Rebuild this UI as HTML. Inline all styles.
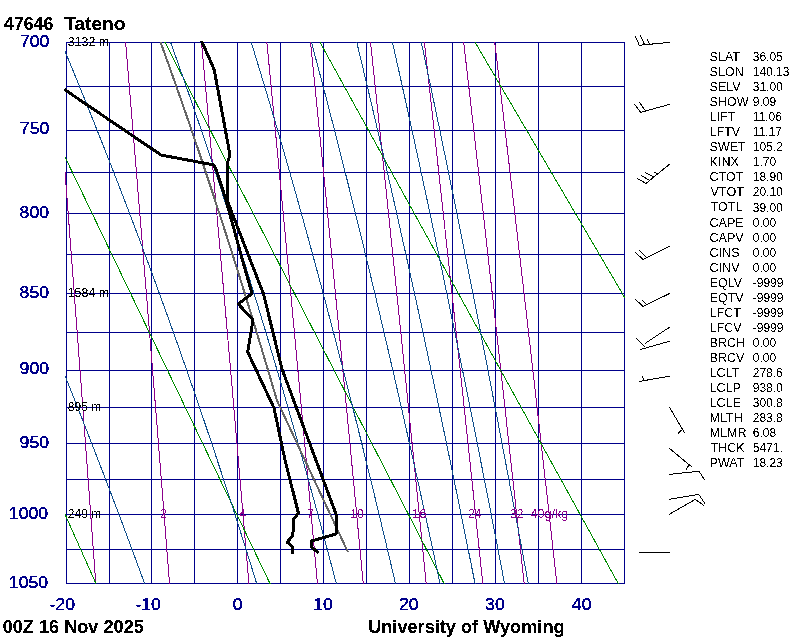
<!DOCTYPE html>
<html><head><meta charset="utf-8"><style>
html,body{margin:0;padding:0;background:#fff;}
#w{position:relative;width:800px;height:640px;overflow:hidden;background:#fff;}
</style></head><body><div id="w">
<svg width="800" height="640" viewBox="0 0 800 640" shape-rendering="crispEdges" style="position:absolute;left:0;top:0"><defs><clipPath id="c"><rect x="65" y="42" width="560" height="542"/></clipPath></defs><path d="M66.5 42V584M109.5 42V584M151.5 42V584M194.5 42V584M237.5 42V584M280.5 42V584M323.5 42V584M366.5 42V584M409.5 42V584M452.5 42V584M495.5 42V584M538.5 42V584M581.5 42V584M624.5 42V584M66 42.5H625M66 86.5H625M66 130.5H625M66 172.5H625M66 213.5H625M66 254.5H625M66 293.5H625M66 332.5H625M66 370.5H625M66 407.5H625M66 443.5H625M66 479.5H625M66 514.5H625M66 549.5H625M66 583.5H625" stroke="#00008b" stroke-width="1" fill="none"/><g clip-path="url(#c)" fill="none" stroke-width="1"><polyline points="53.54,24.41 54.25,33.46 54.95,42.47 55.65,51.44 56.35,60.36 57.04,69.23 57.73,78.06 58.41,86.85 59.09,95.59 59.77,104.29 60.44,112.95 61.11,121.57 61.77,130.15 62.43,138.68 63.09,147.17 63.74,155.63 64.39,164.04 65.03,172.42 65.67,180.76 66.31,189.06 66.94,197.32 67.57,205.54 68.20,213.73 68.82,221.88 69.44,230.00 70.05,238.08 70.67,246.12 71.28,254.13 71.88,262.11 72.48,270.05 73.08,277.95 73.68,285.82 74.27,293.66 74.86,301.47 75.45,309.24 76.03,316.99 76.61,324.69 77.19,332.37 77.76,340.02 78.34,347.64 78.90,355.22 79.47,362.78 80.03,370.30 80.59,377.79 81.15,385.26 81.71,392.70 82.26,400.10 82.81,407.48 83.36,414.83 83.90,422.15 84.44,429.45 84.98,436.71 85.52,443.95 86.05,451.16 86.58,458.34 87.11,465.50 87.64,472.63 88.16,479.74 88.68,486.82 89.20,493.87 89.72,500.90 90.23,507.90 90.75,514.88 91.26,521.83 91.76,528.76 92.27,535.66 92.77,542.54 93.27,549.39 93.77,556.22 94.27,563.03 94.77,569.82 95.26,576.58 95.75,583.31 96.24,590.03 96.72,596.72" stroke="#8b008b"/><polyline points="124.08,24.41 124.84,33.46 125.60,42.47 126.35,51.44 127.10,60.36 127.85,69.23 128.59,78.06 129.32,86.85 130.05,95.59 130.78,104.29 131.50,112.95 132.22,121.57 132.93,130.15 133.64,138.68 134.35,147.17 135.05,155.63 135.75,164.04 136.44,172.42 137.13,180.76 137.81,189.06 138.50,197.32 139.17,205.54 139.85,213.73 140.52,221.88 141.18,230.00 141.85,238.08 142.50,246.12 143.16,254.13 143.81,262.11 144.46,270.05 145.10,277.95 145.75,285.82 146.38,293.66 147.02,301.47 147.65,309.24 148.28,316.99 148.90,324.69 149.52,332.37 150.14,340.02 150.76,347.64 151.37,355.22 151.98,362.78 152.59,370.30 153.19,377.79 153.79,385.26 154.39,392.70 154.98,400.10 155.57,407.48 156.16,414.83 156.75,422.15 157.33,429.45 157.91,436.71 158.49,443.95 159.06,451.16 159.64,458.34 160.21,465.50 160.77,472.63 161.34,479.74 161.90,486.82 162.46,493.87 163.01,500.90 163.57,507.90 164.12,514.88 164.67,521.83 165.22,528.76 165.76,535.66 166.30,542.54 166.84,549.39 167.38,556.22 167.92,563.03 168.45,569.82 168.98,576.58 169.51,583.31 170.03,590.03 170.56,596.72" stroke="#8b008b"/><polyline points="199.85,24.41 200.68,33.46 201.50,42.47 202.31,51.44 203.12,60.36 203.92,69.23 204.72,78.06 205.51,86.85 206.30,95.59 207.09,104.29 207.86,112.95 208.64,121.57 209.41,130.15 210.17,138.68 210.93,147.17 211.69,155.63 212.44,164.04 213.19,172.42 213.93,180.76 214.67,189.06 215.41,197.32 216.14,205.54 216.86,213.73 217.59,221.88 218.31,230.00 219.02,238.08 219.73,246.12 220.44,254.13 221.14,262.11 221.84,270.05 222.54,277.95 223.23,285.82 223.92,293.66 224.60,301.47 225.28,309.24 225.96,316.99 226.64,324.69 227.31,332.37 227.97,340.02 228.64,347.64 229.30,355.22 229.96,362.78 230.61,370.30 231.26,377.79 231.91,385.26 232.55,392.70 233.20,400.10 233.83,407.48 234.47,414.83 235.10,422.15 235.73,429.45 236.36,436.71 236.98,443.95 237.60,451.16 238.22,458.34 238.84,465.50 239.45,472.63 240.06,479.74 240.66,486.82 241.27,493.87 241.87,500.90 242.47,507.90 243.06,514.88 243.66,521.83 244.25,528.76 244.84,535.66 245.42,542.54 246.00,549.39 246.58,556.22 247.16,563.03 247.74,569.82 248.31,576.58 248.88,583.31 249.45,590.03 250.01,596.72" stroke="#8b008b"/><polyline points="265.14,24.41 266.02,33.46 266.89,42.47 267.76,51.44 268.62,60.36 269.47,69.23 270.32,78.06 271.17,86.85 272.01,95.59 272.84,104.29 273.67,112.95 274.50,121.57 275.32,130.15 276.13,138.68 276.94,147.17 277.75,155.63 278.55,164.04 279.34,172.42 280.13,180.76 280.92,189.06 281.70,197.32 282.48,205.54 283.26,213.73 284.03,221.88 284.79,230.00 285.55,238.08 286.31,246.12 287.06,254.13 287.81,262.11 288.56,270.05 289.30,277.95 290.04,285.82 290.77,293.66 291.50,301.47 292.23,309.24 292.95,316.99 293.67,324.69 294.38,332.37 295.09,340.02 295.80,347.64 296.51,355.22 297.21,362.78 297.90,370.30 298.60,377.79 299.29,385.26 299.97,392.70 300.66,400.10 301.34,407.48 302.02,414.83 302.69,422.15 303.36,429.45 304.03,436.71 304.69,443.95 305.36,451.16 306.01,458.34 306.67,465.50 307.32,472.63 307.97,479.74 308.62,486.82 309.26,493.87 309.90,500.90 310.54,507.90 311.18,514.88 311.81,521.83 312.44,528.76 313.06,535.66 313.69,542.54 314.31,549.39 314.93,556.22 315.54,563.03 316.16,569.82 316.77,576.58 317.38,583.31 317.98,590.03 318.59,596.72" stroke="#8b008b"/><polyline points="308.75,24.41 309.67,33.46 310.57,42.47 311.47,51.44 312.37,60.36 313.26,69.23 314.15,78.06 315.03,86.85 315.90,95.59 316.77,104.29 317.64,112.95 318.49,121.57 319.35,130.15 320.20,138.68 321.04,147.17 321.88,155.63 322.71,164.04 323.54,172.42 324.37,180.76 325.19,189.06 326.00,197.32 326.82,205.54 327.62,213.73 328.42,221.88 329.22,230.00 330.02,238.08 330.80,246.12 331.59,254.13 332.37,262.11 333.15,270.05 333.92,277.95 334.69,285.82 335.45,293.66 336.21,301.47 336.97,309.24 337.72,316.99 338.47,324.69 339.22,332.37 339.96,340.02 340.69,347.64 341.43,355.22 342.16,362.78 342.89,370.30 343.61,377.79 344.33,385.26 345.04,392.70 345.76,400.10 346.47,407.48 347.17,414.83 347.87,422.15 348.57,429.45 349.27,436.71 349.96,443.95 350.65,451.16 351.34,458.34 352.02,465.50 352.70,472.63 353.38,479.74 354.05,486.82 354.73,493.87 355.39,500.90 356.06,507.90 356.72,514.88 357.38,521.83 358.04,528.76 358.69,535.66 359.34,542.54 359.99,549.39 360.63,556.22 361.28,563.03 361.92,569.82 362.55,576.58 363.19,583.31 363.82,590.03 364.45,596.72" stroke="#8b008b"/><polyline points="368.61,24.41 369.57,33.46 370.53,42.47 371.49,51.44 372.43,60.36 373.37,69.23 374.31,78.06 375.24,86.85 376.16,95.59 377.08,104.29 377.99,112.95 378.90,121.57 379.80,130.15 380.70,138.68 381.59,147.17 382.48,155.63 383.36,164.04 384.24,172.42 385.11,180.76 385.97,189.06 386.84,197.32 387.69,205.54 388.54,213.73 389.39,221.88 390.24,230.00 391.07,238.08 391.91,246.12 392.74,254.13 393.56,262.11 394.38,270.05 395.20,277.95 396.01,285.82 396.82,293.66 397.62,301.47 398.42,309.24 399.22,316.99 400.01,324.69 400.80,332.37 401.58,340.02 402.36,347.64 403.14,355.22 403.91,362.78 404.68,370.30 405.44,377.79 406.20,385.26 406.96,392.70 407.71,400.10 408.46,407.48 409.21,414.83 409.95,422.15 410.69,429.45 411.43,436.71 412.16,443.95 412.89,451.16 413.61,458.34 414.34,465.50 415.06,472.63 415.77,479.74 416.48,486.82 417.19,493.87 417.90,500.90 418.60,507.90 419.30,514.88 420.00,521.83 420.70,528.76 421.39,535.66 422.07,542.54 422.76,549.39 423.44,556.22 424.12,563.03 424.80,569.82 425.47,576.58 426.14,583.31 426.81,590.03 427.48,596.72" stroke="#8b008b"/><polyline points="422.37,24.41 423.39,33.46 424.39,42.47 425.39,51.44 426.38,60.36 427.37,69.23 428.35,78.06 429.33,86.85 430.30,95.59 431.26,104.29 432.22,112.95 433.17,121.57 434.12,130.15 435.06,138.68 435.99,147.17 436.92,155.63 437.85,164.04 438.77,172.42 439.68,180.76 440.59,189.06 441.50,197.32 442.40,205.54 443.29,213.73 444.18,221.88 445.06,230.00 445.94,238.08 446.82,246.12 447.69,254.13 448.56,262.11 449.42,270.05 450.27,277.95 451.13,285.82 451.97,293.66 452.82,301.47 453.66,309.24 454.49,316.99 455.32,324.69 456.15,332.37 456.97,340.02 457.79,347.64 458.61,355.22 459.42,362.78 460.22,370.30 461.02,377.79 461.82,385.26 462.62,392.70 463.41,400.10 464.20,407.48 464.98,414.83 465.76,422.15 466.54,429.45 467.31,436.71 468.08,443.95 468.84,451.16 469.61,458.34 470.36,465.50 471.12,472.63 471.87,479.74 472.62,486.82 473.37,493.87 474.11,500.90 474.85,507.90 475.58,514.88 476.31,521.83 477.04,528.76 477.77,535.66 478.49,542.54 479.21,549.39 479.93,556.22 480.64,563.03 481.35,569.82 482.06,576.58 482.76,583.31 483.46,590.03 484.16,596.72" stroke="#8b008b"/><polyline points="461.62,24.41 462.67,33.46 463.71,42.47 464.75,51.44 465.77,60.36 466.80,69.23 467.81,78.06 468.82,86.85 469.82,95.59 470.82,104.29 471.81,112.95 472.80,121.57 473.78,130.15 474.75,138.68 475.72,147.17 476.68,155.63 477.64,164.04 478.59,172.42 479.54,180.76 480.48,189.06 481.41,197.32 482.35,205.54 483.27,213.73 484.19,221.88 485.11,230.00 486.02,238.08 486.92,246.12 487.83,254.13 488.72,262.11 489.61,270.05 490.50,277.95 491.38,285.82 492.26,293.66 493.13,301.47 494.00,309.24 494.87,316.99 495.73,324.69 496.58,332.37 497.44,340.02 498.28,347.64 499.13,355.22 499.96,362.78 500.80,370.30 501.63,377.79 502.46,385.26 503.28,392.70 504.10,400.10 504.92,407.48 505.73,414.83 506.53,422.15 507.34,429.45 508.14,436.71 508.93,443.95 509.73,451.16 510.52,458.34 511.30,465.50 512.08,472.63 512.86,479.74 513.64,486.82 514.41,493.87 515.18,500.90 515.94,507.90 516.70,514.88 517.46,521.83 518.22,528.76 518.97,535.66 519.72,542.54 520.46,549.39 521.21,556.22 521.94,563.03 522.68,569.82 523.41,576.58 524.14,583.31 524.87,590.03 525.59,596.72" stroke="#8b008b"/><polyline points="492.62,24.41 493.70,33.46 494.77,42.47 495.83,51.44 496.89,60.36 497.94,69.23 498.98,78.06 500.01,86.85 501.05,95.59 502.07,104.29 503.09,112.95 504.10,121.57 505.11,130.15 506.11,138.68 507.10,147.17 508.09,155.63 509.07,164.04 510.05,172.42 511.02,180.76 511.99,189.06 512.95,197.32 513.91,205.54 514.86,213.73 515.80,221.88 516.74,230.00 517.68,238.08 518.61,246.12 519.54,254.13 520.46,262.11 521.37,270.05 522.28,277.95 523.19,285.82 524.09,293.66 524.99,301.47 525.88,309.24 526.77,316.99 527.66,324.69 528.53,332.37 529.41,340.02 530.28,347.64 531.15,355.22 532.01,362.78 532.87,370.30 533.72,377.79 534.57,385.26 535.42,392.70 536.26,400.10 537.09,407.48 537.93,414.83 538.76,422.15 539.58,429.45 540.41,436.71 541.22,443.95 542.04,451.16 542.85,458.34 543.66,465.50 544.46,472.63 545.26,479.74 546.06,486.82 546.85,493.87 547.64,500.90 548.43,507.90 549.21,514.88 549.99,521.83 550.76,528.76 551.54,535.66 552.31,542.54 553.07,549.39 553.83,556.22 554.59,563.03 555.35,569.82 556.10,576.58 556.85,583.31 557.60,590.03 558.34,596.72" stroke="#8b008b"/><polyline points="-229.62,-147.29 125.25,649.46" stroke="#008b00"/><polyline points="-81.23,-147.29 301.68,649.46" stroke="#008b00"/><polyline points="67.16,-147.29 478.11,649.46" stroke="#008b00"/><polyline points="215.55,-147.29 654.53,649.46" stroke="#008b00"/><polyline points="363.95,-147.29 830.96,649.46" stroke="#008b00"/><polyline points="149.39,596.72 146.96,590.03 144.51,583.31 142.04,576.58 139.56,569.82 137.06,563.03 134.54,556.22 132.01,549.39 129.46,542.54 126.90,535.66 124.32,528.76 121.72,521.83 119.10,514.88 116.46,507.90 113.81,500.90 111.14,493.87 108.45,486.82 105.74,479.74 103.02,472.63 100.27,465.50 97.51,458.34 94.73,451.16 91.93,443.95 89.11,436.71 86.27,429.45 83.42,422.15 80.54,414.83 77.64,407.48 74.73,400.10 71.79,392.70 68.83,385.26 65.86,377.79 62.86,370.30 59.84,362.78 56.80,355.22 53.74,347.64 50.66,340.02 47.56,332.37 44.44,324.69 41.30,316.99 38.13,309.24 34.94,301.47 31.74,293.66 28.51,285.82 25.25,277.95 21.98,270.05 18.68,262.11 15.36,254.13 12.02,246.12 8.65,238.08 5.26,230.00 1.85,221.88 -1.59,213.73 -5.05,205.54 -8.53,197.32 -12.03,189.06 -15.56,180.76 -19.12,172.42 -22.70,164.04 -26.30,155.63 -29.93,147.17 -33.58,138.68 -37.26,130.15 -40.96,121.57 -44.69,112.95 -48.44,104.29 -52.22,95.59 -56.03,86.85 -59.86,78.06 -63.71,69.23 -67.60,60.36 -71.51,51.44 -75.44,42.47 -79.40,33.46 -83.39,24.41 -87.41,15.30 -91.46,6.15 -95.53,-3.05 -99.63,-12.30 -103.76,-21.60 -107.91,-30.95 -112.10,-40.35 -116.31,-49.80 -120.55,-59.30 -124.82,-68.86 -129.13,-78.47 -133.46,-88.13 -137.82,-97.85 -142.21,-107.62 -146.63,-117.45 -151.08,-127.34 -155.56,-137.29 -160.08,-147.29" stroke="#104e8b"/><polyline points="260.72,596.72 258.67,590.03 256.60,583.31 254.52,576.58 252.42,569.82 250.31,563.03 248.18,556.22 246.04,549.39 243.88,542.54 241.70,535.66 239.51,528.76 237.30,521.83 235.08,514.88 232.84,507.90 230.58,500.90 228.30,493.87 226.01,486.82 223.70,479.74 221.37,472.63 219.02,465.50 216.66,458.34 214.28,451.16 211.87,443.95 209.45,436.71 207.01,429.45 204.55,422.15 202.07,414.83 199.57,407.48 197.04,400.10 194.50,392.70 191.94,385.26 189.35,377.79 186.75,370.30 184.12,362.78 181.47,355.22 178.80,347.64 176.11,340.02 173.39,332.37 170.65,324.69 167.88,316.99 165.10,309.24 162.28,301.47 159.45,293.66 156.59,285.82 153.70,277.95 150.79,270.05 147.85,262.11 144.89,254.13 141.90,246.12 138.88,238.08 135.84,230.00 132.77,221.88 129.67,213.73 126.55,205.54 123.39,197.32 120.21,189.06 117.00,180.76 113.76,172.42 110.49,164.04 107.19,155.63 103.85,147.17 100.49,138.68 97.10,130.15 93.68,121.57 90.22,112.95 86.73,104.29 83.21,95.59 79.65,86.85 76.07,78.06 72.45,69.23 68.79,60.36 65.10,51.44 61.38,42.47 57.62,33.46 53.82,24.41 49.99,15.30 46.13,6.15 42.22,-3.05 38.28,-12.30 34.31,-21.60 30.29,-30.95 26.24,-40.35 22.14,-49.80 18.01,-59.30 13.84,-68.86 9.64,-78.47 5.39,-88.13 1.10,-97.85 -3.23,-107.62 -7.60,-117.45 -12.02,-127.34 -16.47,-137.29 -20.96,-147.29" stroke="#104e8b"/><polyline points="339.75,596.72 338.00,590.03 336.24,583.31 334.47,576.58 332.69,569.82 330.89,563.03 329.08,556.22 327.26,549.39 325.43,542.54 323.58,535.66 321.73,528.76 319.85,521.83 317.97,514.88 316.07,507.90 314.16,500.90 312.23,493.87 310.29,486.82 308.34,479.74 306.37,472.63 304.38,465.50 302.38,458.34 300.37,451.16 298.34,443.95 296.29,436.71 294.23,429.45 292.15,422.15 290.06,414.83 287.95,407.48 285.82,400.10 283.68,392.70 281.51,385.26 279.33,377.79 277.14,370.30 274.92,362.78 272.69,355.22 270.43,347.64 268.16,340.02 265.87,332.37 263.56,324.69 261.23,316.99 258.88,309.24 256.50,301.47 254.11,293.66 251.70,285.82 249.26,277.95 246.80,270.05 244.32,262.11 241.82,254.13 239.30,246.12 236.75,238.08 234.17,230.00 231.58,221.88 228.95,213.73 226.31,205.54 223.63,197.32 220.94,189.06 218.21,180.76 215.46,172.42 212.68,164.04 209.87,155.63 207.04,147.17 204.18,138.68 201.28,130.15 198.36,121.57 195.41,112.95 192.42,104.29 189.41,95.59 186.36,86.85 183.28,78.06 180.17,69.23 177.03,60.36 173.85,51.44 170.63,42.47 167.38,33.46 164.10,24.41 160.78,15.30 157.42,6.15 154.02,-3.05 150.58,-12.30 147.11,-21.60 143.59,-30.95 140.04,-40.35 136.44,-49.80 132.80,-59.30 129.12,-68.86 125.40,-78.47 121.63,-88.13 117.81,-97.85 113.95,-107.62 110.05,-117.45 106.09,-127.34 102.09,-137.29 98.04,-147.29" stroke="#104e8b"/><polyline points="398.54,596.72 396.98,590.03 395.42,583.31 393.84,576.58 392.26,569.82 390.66,563.03 389.06,556.22 387.44,549.39 385.81,542.54 384.18,535.66 382.53,528.76 380.87,521.83 379.20,514.88 377.52,507.90 375.83,500.90 374.13,493.87 372.42,486.82 370.69,479.74 368.95,472.63 367.20,465.50 365.44,458.34 363.67,451.16 361.88,443.95 360.08,436.71 358.27,429.45 356.45,422.15 354.61,414.83 352.76,407.48 350.89,400.10 349.01,392.70 347.12,385.26 345.21,377.79 343.29,370.30 341.35,362.78 339.40,355.22 337.44,347.64 335.45,340.02 333.46,332.37 331.44,324.69 329.41,316.99 327.37,309.24 325.30,301.47 323.22,293.66 321.13,285.82 319.01,277.95 316.88,270.05 314.73,262.11 312.56,254.13 310.37,246.12 308.17,238.08 305.94,230.00 303.69,221.88 301.43,213.73 299.14,205.54 296.84,197.32 294.51,189.06 292.16,180.76 289.79,172.42 287.39,164.04 284.98,155.63 282.54,147.17 280.07,138.68 277.58,130.15 275.07,121.57 272.54,112.95 269.97,104.29 267.39,95.59 264.77,86.85 262.13,78.06 259.46,69.23 256.76,60.36 254.04,51.44 251.28,42.47 248.50,33.46 245.68,24.41 242.84,15.30 239.96,6.15 237.05,-3.05 234.11,-12.30 231.13,-21.60 228.12,-30.95 225.08,-40.35 222.00,-49.80 218.88,-59.30 215.72,-68.86 212.53,-78.47 209.30,-88.13 206.02,-97.85 202.71,-107.62 199.36,-117.45 195.96,-127.34 192.52,-137.29 189.03,-147.29" stroke="#104e8b"/><polyline points="442.87,596.72 441.45,590.03 440.02,583.31 438.58,576.58 437.14,569.82 435.68,563.03 434.22,556.22 432.75,549.39 431.27,542.54 429.78,535.66 428.28,528.76 426.78,521.83 425.26,514.88 423.73,507.90 422.20,500.90 420.66,493.87 419.10,486.82 417.54,479.74 415.97,472.63 414.38,465.50 412.79,458.34 411.19,451.16 409.57,443.95 407.95,436.71 406.31,429.45 404.67,422.15 403.01,414.83 401.34,407.48 399.66,400.10 397.97,392.70 396.27,385.26 394.56,377.79 392.83,370.30 391.09,362.78 389.34,355.22 387.58,347.64 385.81,340.02 384.02,332.37 382.22,324.69 380.40,316.99 378.57,309.24 376.73,301.47 374.88,293.66 373.01,285.82 371.12,277.95 369.23,270.05 367.31,262.11 365.39,254.13 363.44,246.12 361.48,238.08 359.51,230.00 357.52,221.88 355.51,213.73 353.49,205.54 351.45,197.32 349.39,189.06 347.32,180.76 345.23,172.42 343.12,164.04 340.99,155.63 338.84,147.17 336.67,138.68 334.49,130.15 332.28,121.57 330.06,112.95 327.81,104.29 325.55,95.59 323.26,86.85 320.95,78.06 318.62,69.23 316.26,60.36 313.89,51.44 311.49,42.47 309.06,33.46 306.61,24.41 304.14,15.30 301.64,6.15 299.12,-3.05 296.57,-12.30 293.99,-21.60 291.38,-30.95 288.75,-40.35 286.09,-49.80 283.40,-59.30 280.68,-68.86 277.93,-78.47 275.14,-88.13 272.33,-97.85 269.48,-107.62 266.60,-117.45 263.68,-127.34 260.73,-137.29 257.75,-147.29" stroke="#104e8b"/><polyline points="477.65,596.72 476.32,590.03 474.98,583.31 473.64,576.58 472.28,569.82 470.93,563.03 469.56,556.22 468.18,549.39 466.80,542.54 465.41,535.66 464.01,528.76 462.61,521.83 461.19,514.88 459.77,507.90 458.34,500.90 456.91,493.87 455.46,486.82 454.00,479.74 452.54,472.63 451.07,465.50 449.59,458.34 448.10,451.16 446.60,443.95 445.09,436.71 443.57,429.45 442.05,422.15 440.51,414.83 438.97,407.48 437.41,400.10 435.85,392.70 434.27,385.26 432.68,377.79 431.09,370.30 429.48,362.78 427.87,355.22 426.24,347.64 424.60,340.02 422.95,332.37 421.29,324.69 419.62,316.99 417.94,309.24 416.24,301.47 414.53,293.66 412.82,285.82 411.08,277.95 409.34,270.05 407.59,262.11 405.82,254.13 404.03,246.12 402.24,238.08 400.43,230.00 398.61,221.88 396.77,213.73 394.93,205.54 393.06,197.32 391.18,189.06 389.29,180.76 387.38,172.42 385.46,164.04 383.52,155.63 381.57,147.17 379.60,138.68 377.61,130.15 375.61,121.57 373.59,112.95 371.55,104.29 369.50,95.59 367.43,86.85 365.34,78.06 363.23,69.23 361.10,60.36 358.96,51.44 356.79,42.47 354.61,33.46 352.40,24.41 350.18,15.30 347.93,6.15 345.66,-3.05 343.37,-12.30 341.06,-21.60 338.73,-30.95 336.37,-40.35 333.99,-49.80 331.58,-59.30 329.15,-68.86 326.70,-78.47 324.22,-88.13 321.71,-97.85 319.18,-107.62 316.62,-117.45 314.03,-127.34 311.41,-137.29 308.77,-147.29" stroke="#104e8b"/><polyline points="507.06,596.72 505.78,590.03 504.50,583.31 503.21,576.58 501.91,569.82 500.61,563.03 499.30,556.22 497.98,549.39 496.66,542.54 495.33,535.66 493.99,528.76 492.65,521.83 491.29,514.88 489.93,507.90 488.56,500.90 487.19,493.87 485.81,486.82 484.42,479.74 483.02,472.63 481.61,465.50 480.20,458.34 478.78,451.16 477.35,443.95 475.91,436.71 474.46,429.45 473.00,422.15 471.54,414.83 470.07,407.48 468.59,400.10 467.09,392.70 465.60,385.26 464.09,377.79 462.57,370.30 461.04,362.78 459.50,355.22 457.96,347.64 456.40,340.02 454.83,332.37 453.26,324.69 451.67,316.99 450.07,309.24 448.46,301.47 446.85,293.66 445.22,285.82 443.58,277.95 441.93,270.05 440.26,262.11 438.59,254.13 436.90,246.12 435.21,238.08 433.50,230.00 431.78,221.88 430.04,213.73 428.30,205.54 426.54,197.32 424.77,189.06 422.98,180.76 421.19,172.42 419.38,164.04 417.55,155.63 415.71,147.17 413.86,138.68 411.99,130.15 410.11,121.57 408.21,112.95 406.30,104.29 404.37,95.59 402.43,86.85 400.47,78.06 398.50,69.23 396.51,60.36 394.50,51.44 392.47,42.47 390.43,33.46 388.37,24.41 386.30,15.30 384.20,6.15 382.08,-3.05 379.95,-12.30 377.80,-21.60 375.63,-30.95 373.43,-40.35 371.22,-49.80 368.99,-59.30 366.73,-68.86 364.45,-78.47 362.15,-88.13 359.83,-97.85 357.49,-107.62 355.12,-117.45 352.73,-127.34 350.31,-137.29 347.87,-147.29" stroke="#104e8b"/><polyline points="530.67,596.72 529.44,590.03 528.21,583.31 526.97,576.58 525.72,569.82 524.46,563.03 523.20,556.22 521.94,549.39 520.66,542.54 519.38,535.66 518.09,528.76 516.80,521.83 515.50,514.88 514.19,507.90 512.88,500.90 511.56,493.87 510.23,486.82 508.90,479.74 507.55,472.63 506.20,465.50 504.85,458.34 503.48,451.16 502.11,443.95 500.73,436.71 499.35,429.45 497.95,422.15 496.55,414.83 495.14,407.48 493.72,400.10 492.29,392.70 490.85,385.26 489.41,377.79 487.96,370.30 486.50,362.78 485.03,355.22 483.55,347.64 482.06,340.02 480.56,332.37 479.06,324.69 477.54,316.99 476.02,309.24 474.48,301.47 472.94,293.66 471.38,285.82 469.82,277.95 468.25,270.05 466.66,262.11 465.07,254.13 463.46,246.12 461.84,238.08 460.22,230.00 458.58,221.88 456.93,213.73 455.27,205.54 453.60,197.32 451.92,189.06 450.22,180.76 448.51,172.42 446.80,164.04 445.06,155.63 443.32,147.17 441.56,138.68 439.79,130.15 438.01,121.57 436.21,112.95 434.40,104.29 432.58,95.59 430.74,86.85 428.89,78.06 427.02,69.23 425.14,60.36 423.25,51.44 421.34,42.47 419.41,33.46 417.47,24.41 415.51,15.30 413.53,6.15 411.54,-3.05 409.53,-12.30 407.51,-21.60 405.47,-30.95 403.40,-40.35 401.33,-49.80 399.23,-59.30 397.11,-68.86 394.98,-78.47 392.82,-88.13 390.65,-97.85 388.45,-107.62 386.24,-117.45 384.00,-127.34 381.74,-137.29 379.46,-147.29" stroke="#104e8b"/><polyline points="347.90,552.00 276.82,400.10 275.09,394.18 273.35,388.24 271.60,382.28 269.84,376.30 268.06,370.30 266.27,364.28 264.48,358.25 262.66,352.19 260.84,346.11 259.01,340.02 257.16,333.90 255.30,327.77 253.42,321.61 251.54,315.44 249.64,309.24 247.72,303.03 245.80,296.79 243.86,290.53 241.90,284.25 239.94,277.95 237.95,271.63 235.96,265.29 233.95,258.92 231.92,252.53 229.88,246.12 227.83,239.69 225.75,233.23 223.67,226.76 221.57,220.26 219.45,213.73 217.31,207.19 215.16,200.61 213.00,194.02 210.81,187.40 208.61,180.76 206.39,174.09 204.16,167.40 201.90,160.68 199.63,153.94 197.34,147.17 195.03,140.38 192.71,133.56 190.36,126.72 188.00,119.85 185.61,112.95 183.21,106.03 180.79,99.08 178.34,92.10 175.88,85.10 173.39,78.06 170.89,71.00 168.36,63.91 165.81,56.80 163.24,49.65 160.64,42.47 158.03,35.27 155.39,28.03 152.73,20.77" stroke="#666666" stroke-width="2"/></g><polyline points="201.60,41.00 214.20,69.60 230.00,155.00 227.00,164.00 227.00,200.00 263.50,294.00 282.00,369.00 336.00,514.00 336.00,534.00 311.60,541.00 311.60,547.00 318.60,553.20" stroke="#000" fill="none" stroke-width="3" stroke-linejoin="round" stroke-linecap="butt"/><polyline points="64.30,89.40 161.00,155.00 214.00,165.00 217.00,172.00 226.00,200.00 240.80,254.00 252.00,293.60 238.30,304.00 253.00,320.00 247.70,352.00 274.00,408.00 285.00,460.00 298.40,513.00 293.75,519.00 292.80,535.60 287.20,542.20 292.20,546.50 292.20,553.50" stroke="#000" fill="none" stroke-width="3" stroke-linejoin="round" stroke-linecap="butt"/><polyline points="669.60,42.40 639.25,45.25 635.40,36.25" stroke="#000" fill="none" stroke-width="1"/><polyline points="644.50,44.50 640.40,35.50" stroke="#000" fill="none" stroke-width="1"/><polyline points="649.40,44.00 647.40,39.25" stroke="#000" fill="none" stroke-width="1"/><polyline points="669.60,104.40 640.75,112.30 634.40,104.25" stroke="#000" fill="none" stroke-width="1"/><polyline points="645.25,110.60 639.25,102.00" stroke="#000" fill="none" stroke-width="1"/><polyline points="669.60,164.20 646.00,183.40 637.00,178.25" stroke="#000" fill="none" stroke-width="1"/><polyline points="649.75,180.50 641.10,175.25" stroke="#000" fill="none" stroke-width="1"/><polyline points="653.90,177.10 645.25,172.40" stroke="#000" fill="none" stroke-width="1"/><polyline points="658.00,173.75 654.25,172.40" stroke="#000" fill="none" stroke-width="1"/><polyline points="669.60,246.40 643.00,259.40 635.10,252.25" stroke="#000" fill="none" stroke-width="1"/><polyline points="646.40,257.50 639.25,250.00" stroke="#000" fill="none" stroke-width="1"/><polyline points="669.60,293.50 643.00,306.40 635.10,299.10" stroke="#000" fill="none" stroke-width="1"/><polyline points="646.40,304.40 642.25,300.10" stroke="#000" fill="none" stroke-width="1"/><polyline points="669.60,327.20 645.00,343.50" stroke="#000" fill="none" stroke-width="1"/><polyline points="636.10,338.40 644.80,346.60" stroke="#000" fill="none" stroke-width="1"/><polyline points="669.60,341.25 640.40,349.50" stroke="#000" fill="none" stroke-width="1"/><polyline points="669.60,376.20 639.40,381.40" stroke="#000" fill="none" stroke-width="1"/><polyline points="643.40,380.10 642.50,376.20" stroke="#000" fill="none" stroke-width="1"/><polyline points="669.40,407.25 684.70,433.00" stroke="#000" fill="none" stroke-width="1"/><polyline points="681.60,430.00 678.10,433.50" stroke="#000" fill="none" stroke-width="1"/><polyline points="669.06,448.10 692.50,467.50" stroke="#000" fill="none" stroke-width="1"/><polyline points="689.10,464.70 686.25,469.40" stroke="#000" fill="none" stroke-width="1"/><polyline points="669.06,474.40 699.00,471.25 704.70,480.00" stroke="#000" fill="none" stroke-width="1"/><polyline points="669.00,499.40 698.75,494.40 704.70,503.40" stroke="#000" fill="none" stroke-width="1"/><polyline points="669.00,514.40 695.30,499.40 703.75,505.30" stroke="#000" fill="none" stroke-width="1"/><polyline points="639.00,552.40 670.00,552.40" stroke="#000" fill="none" stroke-width="1"/></svg>
<svg width="800" height="640" style="position:absolute;left:0;top:0" font-family="Liberation Sans, sans-serif"><defs><filter id="thr" x="0" y="0" width="800" height="640" filterUnits="userSpaceOnUse"><feComponentTransfer><feFuncA type="discrete" tableValues="0 0 1 1 1"/></feComponentTransfer></filter><filter id="thr2" x="0" y="0" width="800" height="640" filterUnits="userSpaceOnUse"><feComponentTransfer><feFuncA type="discrete" tableValues="0 1"/></feComponentTransfer></filter></defs><g filter="url(#thr)"><text transform="translate(-16.21,-9.90) scale(1.0156,1)" x="20" y="40" font-size="17.5" font-weight="bold" fill="#000">47646</text>
<text transform="translate(42.35,-9.90) scale(1.0927,1)" x="20" y="40" font-size="17.5" font-weight="bold" fill="#000">Tateno</text>
<text transform="translate(-0.82,7.10) scale(1.0400,1)" x="20" y="40" font-size="17" font-weight="normal" fill="#00008b" stroke="#00008b" stroke-width="0.22">700</text>
<text transform="translate(-0.92,94.10) scale(1.0400,1)" x="20" y="40" font-size="17" font-weight="normal" fill="#00008b" stroke="#00008b" stroke-width="0.22">750</text>
<text transform="translate(-1.17,178.25) scale(1.0400,1)" x="20" y="40" font-size="17" font-weight="normal" fill="#00008b" stroke="#00008b" stroke-width="0.22">800</text>
<text transform="translate(-1.17,257.90) scale(1.0400,1)" x="20" y="40" font-size="17" font-weight="normal" fill="#00008b" stroke="#00008b" stroke-width="0.22">850</text>
<text transform="translate(-1.17,334.00) scale(1.0400,1)" x="20" y="40" font-size="17" font-weight="normal" fill="#00008b" stroke="#00008b" stroke-width="0.22">900</text>
<text transform="translate(-1.17,408.25) scale(1.0400,1)" x="20" y="40" font-size="17" font-weight="normal" fill="#00008b" stroke="#00008b" stroke-width="0.22">950</text>
<text transform="translate(-11.98,478.90) scale(1.0400,1)" x="20" y="40" font-size="17" font-weight="normal" fill="#00008b" stroke="#00008b" stroke-width="0.22">1000</text>
<text transform="translate(-11.98,547.80) scale(1.0400,1)" x="20" y="40" font-size="17" font-weight="normal" fill="#00008b" stroke="#00008b" stroke-width="0.22">1050</text>
<text transform="translate(28.70,570.50) scale(1.0400,1)" x="20" y="40" font-size="17" font-weight="normal" fill="#00008b" stroke="#00008b" stroke-width="0.22">-20</text>
<text transform="translate(114.60,570.50) scale(1.0400,1)" x="20" y="40" font-size="17" font-weight="normal" fill="#00008b" stroke="#00008b" stroke-width="0.22">-10</text>
<text transform="translate(212.00,570.50) scale(1.0400,1)" x="20" y="40" font-size="17" font-weight="normal" fill="#00008b" stroke="#00008b" stroke-width="0.22">0</text>
<text transform="translate(292.42,570.50) scale(1.0400,1)" x="20" y="40" font-size="17" font-weight="normal" fill="#00008b" stroke="#00008b" stroke-width="0.22">10</text>
<text transform="translate(378.12,570.50) scale(1.0400,1)" x="20" y="40" font-size="17" font-weight="normal" fill="#00008b" stroke="#00008b" stroke-width="0.22">20</text>
<text transform="translate(464.32,570.50) scale(1.0400,1)" x="20" y="40" font-size="17" font-weight="normal" fill="#00008b" stroke="#00008b" stroke-width="0.22">30</text>
<text transform="translate(551.04,570.50) scale(1.0400,1)" x="20" y="40" font-size="17" font-weight="normal" fill="#00008b" stroke="#00008b" stroke-width="0.22">40</text>
<text transform="translate(-18.03,593.50) scale(1.0370,1)" x="20" y="40" font-size="17.5" font-weight="bold" fill="#000">00Z 16 Nov 2025</text>
<text transform="translate(347.39,593.50) scale(1.0385,1)" x="20" y="40" font-size="17.5" font-weight="bold" fill="#000">University of Wyoming</text></g><g filter="url(#thr2)"><text transform="translate(47.00,6.00) scale(1.0355,1)" x="20" y="40" font-size="12" font-weight="normal" fill="#000">3132 m</text>
<text transform="translate(47.00,257.40) scale(1.0355,1)" x="20" y="40" font-size="12" font-weight="normal" fill="#000">1584 m</text>
<text transform="translate(47.59,371.00) scale(1.0078,1)" x="20" y="40" font-size="12" font-weight="normal" fill="#000">895 m</text>
<text transform="translate(47.59,477.90) scale(1.0078,1)" x="20" y="40" font-size="12" font-weight="normal" fill="#000">249 m</text>
<text transform="translate(140.25,478.00) scale(1.0000,1)" x="20" y="40" font-size="12" font-weight="normal" fill="#8b008b">2</text>
<text transform="translate(219.20,478.00) scale(1.0000,1)" x="20" y="40" font-size="12" font-weight="normal" fill="#8b008b">4</text>
<text transform="translate(287.00,478.00) scale(1.0000,1)" x="20" y="40" font-size="12" font-weight="normal" fill="#8b008b">7</text>
<text transform="translate(329.85,478.00) scale(1.0167,1)" x="20" y="40" font-size="12" font-weight="normal" fill="#8b008b">10</text>
<text transform="translate(390.25,478.00) scale(1.0833,1)" x="20" y="40" font-size="12" font-weight="normal" fill="#8b008b">16</text>
<text transform="translate(448.00,478.00) scale(1.0000,1)" x="20" y="40" font-size="12" font-weight="normal" fill="#8b008b">24</text>
<text transform="translate(490.00,478.00) scale(1.0000,1)" x="20" y="40" font-size="12" font-weight="normal" fill="#8b008b">32</text>
<text transform="translate(509.53,478.00) scale(1.0486,1)" x="20" y="40" font-size="12" font-weight="normal" fill="#8b008b">40g/kg</text>
<text transform="translate(688.65,21.10) scale(1.0450,1)" x="20" y="40" font-size="12" font-weight="normal" fill="#000">SLAT</text>
<text transform="translate(732.75,21.10) scale(1.0000,1)" x="20" y="40" font-size="12" font-weight="normal" fill="#000">36.05</text>
<text transform="translate(688.65,36.14) scale(1.0450,1)" x="20" y="40" font-size="12" font-weight="normal" fill="#000">SLON</text>
<text transform="translate(732.75,36.14) scale(1.0000,1)" x="20" y="40" font-size="12" font-weight="normal" fill="#000">140.13</text>
<text transform="translate(688.65,51.18) scale(1.0450,1)" x="20" y="40" font-size="12" font-weight="normal" fill="#000">SELV</text>
<text transform="translate(732.75,51.18) scale(1.0000,1)" x="20" y="40" font-size="12" font-weight="normal" fill="#000">31.00</text>
<text transform="translate(688.65,66.22) scale(1.0450,1)" x="20" y="40" font-size="12" font-weight="normal" fill="#000">SHOW</text>
<text transform="translate(732.75,66.22) scale(1.0000,1)" x="20" y="40" font-size="12" font-weight="normal" fill="#000">9.09</text>
<text transform="translate(688.65,81.26) scale(1.0450,1)" x="20" y="40" font-size="12" font-weight="normal" fill="#000">LIFT</text>
<text transform="translate(732.75,81.26) scale(1.0000,1)" x="20" y="40" font-size="12" font-weight="normal" fill="#000">11.06</text>
<text transform="translate(688.65,96.30) scale(1.0450,1)" x="20" y="40" font-size="12" font-weight="normal" fill="#000">LFTV</text>
<text transform="translate(732.75,96.30) scale(1.0000,1)" x="20" y="40" font-size="12" font-weight="normal" fill="#000">11.17</text>
<text transform="translate(688.65,111.34) scale(1.0450,1)" x="20" y="40" font-size="12" font-weight="normal" fill="#000">SWET</text>
<text transform="translate(732.75,111.34) scale(1.0000,1)" x="20" y="40" font-size="12" font-weight="normal" fill="#000">105.2</text>
<text transform="translate(688.65,126.38) scale(1.0450,1)" x="20" y="40" font-size="12" font-weight="normal" fill="#000">KINX</text>
<text transform="translate(732.75,126.38) scale(1.0000,1)" x="20" y="40" font-size="12" font-weight="normal" fill="#000">1.70</text>
<text transform="translate(688.65,141.42) scale(1.0450,1)" x="20" y="40" font-size="12" font-weight="normal" fill="#000">CTOT</text>
<text transform="translate(732.75,141.42) scale(1.0000,1)" x="20" y="40" font-size="12" font-weight="normal" fill="#000">18.90</text>
<text transform="translate(689.70,156.46) scale(1.0450,1)" x="20" y="40" font-size="12" font-weight="normal" fill="#000">VTOT</text>
<text transform="translate(732.75,156.46) scale(1.0000,1)" x="20" y="40" font-size="12" font-weight="normal" fill="#000">20.10</text>
<text transform="translate(689.70,171.50) scale(1.0450,1)" x="20" y="40" font-size="12" font-weight="normal" fill="#000">TOTL</text>
<text transform="translate(732.75,171.50) scale(1.0000,1)" x="20" y="40" font-size="12" font-weight="normal" fill="#000">39.00</text>
<text transform="translate(688.65,186.54) scale(1.0450,1)" x="20" y="40" font-size="12" font-weight="normal" fill="#000">CAPE</text>
<text transform="translate(732.75,186.54) scale(1.0000,1)" x="20" y="40" font-size="12" font-weight="normal" fill="#000">0.00</text>
<text transform="translate(688.65,201.58) scale(1.0450,1)" x="20" y="40" font-size="12" font-weight="normal" fill="#000">CAPV</text>
<text transform="translate(732.75,201.58) scale(1.0000,1)" x="20" y="40" font-size="12" font-weight="normal" fill="#000">0.00</text>
<text transform="translate(688.65,216.62) scale(1.0450,1)" x="20" y="40" font-size="12" font-weight="normal" fill="#000">CINS</text>
<text transform="translate(732.75,216.62) scale(1.0000,1)" x="20" y="40" font-size="12" font-weight="normal" fill="#000">0.00</text>
<text transform="translate(688.65,231.66) scale(1.0450,1)" x="20" y="40" font-size="12" font-weight="normal" fill="#000">CINV</text>
<text transform="translate(732.75,231.66) scale(1.0000,1)" x="20" y="40" font-size="12" font-weight="normal" fill="#000">0.00</text>
<text transform="translate(688.65,246.70) scale(1.0450,1)" x="20" y="40" font-size="12" font-weight="normal" fill="#000">EQLV</text>
<text transform="translate(732.75,246.70) scale(1.0000,1)" x="20" y="40" font-size="12" font-weight="normal" fill="#000">-9999</text>
<text transform="translate(688.65,261.74) scale(1.0450,1)" x="20" y="40" font-size="12" font-weight="normal" fill="#000">EQTV</text>
<text transform="translate(732.75,261.74) scale(1.0000,1)" x="20" y="40" font-size="12" font-weight="normal" fill="#000">-9999</text>
<text transform="translate(688.65,276.78) scale(1.0450,1)" x="20" y="40" font-size="12" font-weight="normal" fill="#000">LFCT</text>
<text transform="translate(732.75,276.78) scale(1.0000,1)" x="20" y="40" font-size="12" font-weight="normal" fill="#000">-9999</text>
<text transform="translate(688.65,291.82) scale(1.0450,1)" x="20" y="40" font-size="12" font-weight="normal" fill="#000">LFCV</text>
<text transform="translate(732.75,291.82) scale(1.0000,1)" x="20" y="40" font-size="12" font-weight="normal" fill="#000">-9999</text>
<text transform="translate(688.65,306.86) scale(1.0450,1)" x="20" y="40" font-size="12" font-weight="normal" fill="#000">BRCH</text>
<text transform="translate(732.75,306.86) scale(1.0000,1)" x="20" y="40" font-size="12" font-weight="normal" fill="#000">0.00</text>
<text transform="translate(688.65,321.90) scale(1.0450,1)" x="20" y="40" font-size="12" font-weight="normal" fill="#000">BRCV</text>
<text transform="translate(732.75,321.90) scale(1.0000,1)" x="20" y="40" font-size="12" font-weight="normal" fill="#000">0.00</text>
<text transform="translate(688.65,336.94) scale(1.0450,1)" x="20" y="40" font-size="12" font-weight="normal" fill="#000">LCLT</text>
<text transform="translate(732.75,336.94) scale(1.0000,1)" x="20" y="40" font-size="12" font-weight="normal" fill="#000">278.6</text>
<text transform="translate(688.65,351.98) scale(1.0450,1)" x="20" y="40" font-size="12" font-weight="normal" fill="#000">LCLP</text>
<text transform="translate(732.75,351.98) scale(1.0000,1)" x="20" y="40" font-size="12" font-weight="normal" fill="#000">938.0</text>
<text transform="translate(688.65,367.02) scale(1.0450,1)" x="20" y="40" font-size="12" font-weight="normal" fill="#000">LCLE</text>
<text transform="translate(732.75,367.02) scale(1.0000,1)" x="20" y="40" font-size="12" font-weight="normal" fill="#000">300.8</text>
<text transform="translate(688.65,382.06) scale(1.0450,1)" x="20" y="40" font-size="12" font-weight="normal" fill="#000">MLTH</text>
<text transform="translate(732.75,382.06) scale(1.0000,1)" x="20" y="40" font-size="12" font-weight="normal" fill="#000">283.8</text>
<text transform="translate(688.65,397.10) scale(1.0450,1)" x="20" y="40" font-size="12" font-weight="normal" fill="#000">MLMR</text>
<text transform="translate(732.75,397.10) scale(1.0000,1)" x="20" y="40" font-size="12" font-weight="normal" fill="#000">6.08</text>
<text transform="translate(689.70,412.14) scale(1.0450,1)" x="20" y="40" font-size="12" font-weight="normal" fill="#000">THCK</text>
<text transform="translate(732.75,412.14) scale(1.0000,1)" x="20" y="40" font-size="12" font-weight="normal" fill="#000">5471.</text>
<text transform="translate(688.65,427.18) scale(1.0450,1)" x="20" y="40" font-size="12" font-weight="normal" fill="#000">PWAT</text>
<text transform="translate(732.75,427.18) scale(1.0000,1)" x="20" y="40" font-size="12" font-weight="normal" fill="#000">18.23</text></g></svg>
</div></body></html>
